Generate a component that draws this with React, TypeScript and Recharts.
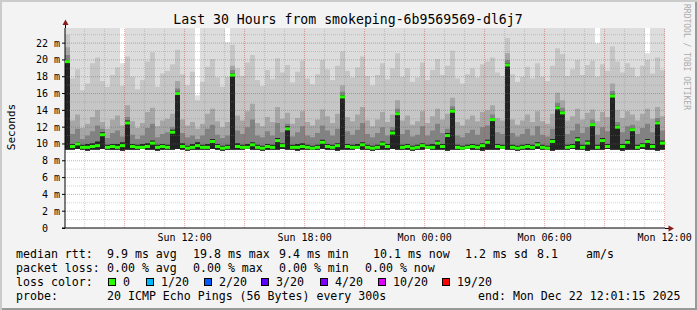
import React from 'react';
import { ComposedChart, Area, Line, XAxis, YAxis, ReferenceLine } from 'recharts';

// one column = 15 minutes, 120 columns = 30 hours (ms)
const minPing = [
  9.3, 9.3, 9.4, 9.3, 9.2, 9.3, 9.3, 9.4, 9.3, 9.3,
  9.3, 9.2, 9.3, 9.3, 9.3, 9.4, 9.3, 9.3, 9.2, 9.3,
  9.3, 9.3, 9.4, 9.3, 9.2, 9.3, 9.3, 9.3, 9.3, 9.4,
  9.3, 9.2, 9.3, 9.3, 9.3, 9.3, 9.4, 9.3, 9.3, 9.2,
  9.3, 9.3, 9.3, 9.4, 9.3, 9.3, 9.2, 9.3, 9.3, 9.3,
  9.3, 9.4, 9.3, 9.3, 9.2, 9.3, 9.3, 9.3, 9.4, 9.3,
  9.3, 9.2, 9.3, 9.3, 9.3, 9.4, 9.3, 9.3, 9.3, 9.2,
  9.3, 9.3, 9.4, 9.3, 9.3, 9.3, 9.2, 9.3, 9.3, 9.3,
  9.4, 9.3, 9.3, 9.2, 9.3, 9.3, 9.3, 9.4, 9.3, 9.3,
  9.2, 9.3, 9.3, 9.3, 9.4, 9.3, 9.3, 9.2, 9.3, 9.3,
  9.3, 9.4, 9.3, 9.3, 9.2, 9.3, 9.3, 9.3, 9.4, 9.3,
  9.3, 9.2, 9.3, 9.3, 9.3, 9.4, 9.3, 9.3, 9.2, 9.3,
];

const darkPing = [
  20.0, 10.0, 10.2, 9.9, 10.0, 10.1, 10.3, 11.4, 9.9, 10.0,
  10.0, 10.2, 12.8, 10.0, 9.9, 10.0, 10.1, 10.4, 9.9, 10.0,
  9.9, 11.7, 16.2, 10.1, 9.8, 10.0, 10.2, 9.9, 10.0, 10.6,
  10.0, 9.8, 9.9, 18.4, 10.1, 9.9, 10.0, 10.2, 9.9, 9.8,
  10.0, 9.9, 10.7, 10.1, 12.1, 9.9, 10.0, 10.1, 9.9, 9.8,
  9.9, 10.5, 10.0, 9.9, 10.1, 15.8, 10.0, 9.9, 10.0, 10.2,
  9.9, 9.8, 9.9, 10.3, 10.0, 11.6, 13.8, 9.9, 10.0, 9.8,
  9.9, 10.1, 9.9, 10.0, 10.4, 10.0, 11.3, 14.1, 9.9, 9.8,
  9.9, 10.0, 9.9, 10.1, 10.5, 13.1, 10.0, 9.9, 19.6, 9.9,
  9.8, 9.9, 10.0, 9.9, 10.2, 9.9, 9.8, 10.6, 14.5, 13.9,
  9.9, 10.0, 10.8, 9.9, 10.4, 12.5, 9.9, 10.7, 10.0, 15.9,
  12.2, 10.0, 10.5, 11.9, 9.9, 10.1, 10.6, 10.0, 12.7, 10.4,
];

const lowPing = [
  20.6, 11.2, 11.8, 10.6, 11.0, 11.5, 12.2, 11.8, 10.7, 11.3,
  11.6, 10.9, 13.2, 11.1, 10.6, 11.0, 11.9, 12.4, 10.8, 11.2,
  11.4, 12.0, 16.6, 11.3, 10.8, 11.0, 10.6, 11.0, 11.8, 12.3,
  11.1, 10.7, 11.0, 18.8, 11.6, 11.2, 12.0, 12.9, 11.0, 10.8,
  11.5, 11.0, 12.5, 11.4, 12.4, 10.9, 11.4, 12.1, 11.0, 10.8,
  11.3, 12.2, 11.6, 11.0, 11.8, 16.2, 11.5, 11.1, 11.7, 12.5,
  11.2, 10.8, 11.3, 12.0, 11.0, 12.0, 14.2, 11.2, 11.7, 10.9,
  11.1, 12.1, 11.0, 11.6, 12.4, 11.3, 11.8, 14.5, 11.0, 10.8,
  11.3, 11.7, 11.1, 12.0, 12.2, 13.5, 11.4, 11.2, 20.0, 11.3,
  10.9, 11.2, 11.8, 11.0, 12.1, 11.1, 10.9, 11.8, 14.9, 14.3,
  11.2, 11.6, 12.4, 11.3, 12.0, 12.9, 11.1, 12.0, 11.5, 16.3,
  12.6, 11.4, 12.1, 12.3, 11.2, 11.9, 12.4, 11.4, 13.1, 11.6,
];

const midPing = [
  21.5, 12.8, 13.5, 11.9, 12.4, 13.2, 14.0, 12.6, 11.8, 12.9,
  13.4, 12.2, 14.6, 12.7, 11.9, 12.5, 13.8, 14.3, 12.1, 12.8,
  13.0, 13.6, 17.5, 12.9, 12.2, 12.6, 11.8, 12.4, 13.6, 14.2,
  12.7, 12.0, 12.6, 19.3, 13.4, 12.8, 13.9, 14.8, 12.5, 12.1,
  13.2, 12.6, 14.4, 13.0, 13.7, 12.4, 13.1, 13.9, 12.6, 12.2,
  12.9, 14.1, 13.3, 12.5, 13.6, 17.0, 13.2, 12.7, 13.5, 14.4,
  12.8, 12.1, 12.9, 13.8, 12.6, 13.5, 15.2, 12.8, 13.4, 12.3,
  12.7, 13.9, 12.5, 13.3, 14.2, 12.9, 13.6, 15.5, 12.6, 12.2,
  12.9, 13.4, 12.7, 13.8, 14.0, 14.6, 13.1, 12.8, 20.8, 12.9,
  12.3, 12.8, 13.5, 12.6, 13.9, 12.7, 12.4, 13.6, 16.1, 15.2,
  12.8, 13.3, 14.2, 12.9, 13.7, 14.1, 12.7, 13.8, 13.2, 17.2,
  14.0, 13.1, 13.9, 13.5, 12.8, 13.6, 14.2, 13.0, 14.4, 13.3,
];

const upperPing = [
  23.0, 17.8, 18.9, 16.4, 17.2, 19.6, 20.3, 17.5, 16.8, 18.2,
  19.1, 16.9, 20.4, 18.0, 16.5, 17.6, 19.8, 20.9, 16.8, 18.4,
  18.7, 19.5, 21.2, 18.3, 17.0, 18.6, 15.2, 17.4, 19.2, 20.1,
  17.9, 16.8, 18.0, 21.8, 19.0, 18.1, 19.7, 20.6, 17.6, 16.9,
  18.8, 17.7, 20.2, 18.5, 19.4, 17.3, 18.6, 19.9, 17.8, 17.1,
  18.3, 20.0, 18.9, 17.6, 19.3, 21.0, 18.7, 17.9, 19.1, 20.4,
  18.1, 17.0, 18.2, 19.6, 17.7, 19.0, 20.8, 18.0, 19.0, 17.4,
  17.9, 19.7, 17.6, 18.8, 20.1, 18.2, 19.3, 21.1, 17.8, 17.2,
  18.3, 19.0, 17.9, 19.5, 19.8, 20.3, 18.5, 18.1, 22.6, 18.3,
  17.4, 18.0, 19.2, 17.8, 19.6, 18.0, 17.5, 19.3, 21.4, 20.7,
  18.1, 18.9, 20.0, 18.2, 19.4, 19.9, 18.0, 19.5, 18.7, 21.6,
  19.8, 18.5, 19.6, 19.1, 18.0, 19.3, 20.0, 18.4, 20.3, 18.8,
];

const maxPing = [
  30, 27, 29, 25, 26, 28, 30, 26, 25, 27,
  28, 19.6, 30, 27, 25, 26, 29, 30, 25, 27,
  27, 28, 30, 26, 25, 27, 15.8, 26, 28, 29,
  26, 25, 22.1, 30, 28, 26, 29, 30, 26, 25,
  27, 26, 29, 27, 28, 25, 27, 29, 26, 25,
  26, 29, 27, 26, 28, 30, 27, 26, 28, 29,
  26, 25, 26, 28, 26, 27, 30, 26, 28, 25,
  26, 28, 25, 27, 29, 26, 28, 30, 26, 25,
  27, 28, 26, 28, 29, 29, 27, 26, 30, 27,
  25, 26, 28, 26, 28, 26, 25, 28, 30, 29,
  26, 27, 29, 26, 28, 29, 22.0, 28, 27, 30,
  28, 27, 28, 28, 26, 28, 20.8, 27, 29, 27,
];

const medianRtt = [
  19.8, 9.7, 10.0, 9.6, 9.6, 9.7, 9.8, 11.1, 9.6, 9.7,
  9.6, 9.8, 12.5, 9.7, 9.6, 9.6, 9.7, 10.1, 9.6, 9.7,
  9.6, 11.4, 16.0, 9.7, 9.5, 9.6, 9.8, 9.6, 9.6, 10.3,
  9.7, 9.5, 9.6, 18.2, 9.7, 9.6, 9.6, 9.9, 9.6, 9.5,
  9.7, 9.6, 10.4, 9.8, 11.8, 9.6, 9.6, 9.7, 9.6, 9.5,
  9.6, 10.2, 9.7, 9.6, 9.8, 15.6, 9.7, 9.6, 9.6, 9.9,
  9.6, 9.5, 9.6, 10.0, 9.7, 11.3, 13.6, 9.6, 9.7, 9.5,
  9.6, 9.8, 9.6, 9.6, 10.1, 9.7, 11.0, 13.9, 9.6, 9.5,
  9.6, 9.7, 9.6, 9.8, 10.2, 12.9, 9.7, 9.6, 19.4, 9.6,
  9.5, 9.6, 9.7, 9.6, 9.9, 9.6, 9.5, 10.3, 14.3, 13.7,
  9.6, 9.7, 10.5, 9.6, 10.1, 12.3, 9.6, 10.4, 9.7, 15.7,
  12.0, 9.7, 10.2, 11.7, 9.6, 9.8, 10.3, 9.7, 12.5, 10.1,
];

const timeTickHours = [6, 12, 18, 24, 30];
const timeTickLabels = ['Sun 12:00', 'Sun 18:00', 'Mon 00:00', 'Mon 06:00', 'Mon 12:00'];
const gridHours = [1, 2, 3, 4, 5, 6, 7, 8, 9, 10, 11, 12, 13, 14, 15, 16, 17, 18, 19, 20, 21, 22, 23, 24, 25, 26, 27, 28, 29, 30];
const yTicks = [0, 2, 4, 6, 8, 10, 12, 14, 16, 18, 20, 22];
const yMinorTicks = [1, 3, 5, 7, 9, 11, 13, 15, 17, 19, 21, 23];

const lossLabels = ['0', '1/20', '2/20', '3/20', '4/20', '10/20', '19/20'];
const lossColors = ['#26ff00', '#00b8ff', '#0059ff', '#5e00ff', '#7e00ff', '#dd00ff', '#ff0000'];

const STEP_H = 0.25;
const START_OFF = 1.25 / 60; // graph starts at 06:01:15
const PLOT_W = 600;
const COL_W = PLOT_W / medianRtt.length;
const MONO = "'DejaVu Sans Mono', monospace";

const rows: any[] = medianRtt.map((m, i) => ({
  t: i * STEP_H,
  lo: minPing[i],
  dark: darkPing[i],
  low: lowPing[i],
  mid: midPing[i],
  upper: upperPing[i],
  max: maxPing[i],
  median: m,
}));
// close the last step
rows.push({ ...rows[rows.length - 1], t: rows.length * STEP_H, median: undefined });

// smoke layers, outermost first
const smoke = [
  { key: 'max', fill: '#dddddd' },
  { key: 'upper', fill: '#c6c6c6' },
  { key: 'mid', fill: '#a6a6a6' },
  { key: 'low', fill: '#828282' },
  { key: 'dark', fill: '#232323' },
];

const MedianDot = (props: any) => {
  const { cx, cy, index } = props;
  if (cy == null || Number.isNaN(cy)) return <g key={`md-${index}`} />;
  return <rect key={`md-${index}`} x={cx} y={cy - 1.5} width={COL_W} height={3} fill="#26ff00" />;
};

const XTick = (props: any) => {
  const { x, payload } = props;
  const idx = timeTickHours.findIndex((h) => Math.abs(h - START_OFF - payload.value) < 1e-6);
  return (
    <text x={x} y={241} textAnchor="middle" fontFamily={MONO} fontSize={10} fill="#000">
      {timeTickLabels[idx]}
    </text>
  );
};

const YTick = (props: any) => {
  const { y, payload } = props;
  const label = payload.value === 0 ? '0  ' : `${payload.value} m`;
  return (
    <text x={60} y={y + 3.5} textAnchor="end" fontFamily={MONO} fontSize={10} fill="#000" style={{ whiteSpace: 'pre' }}>
      {label}
    </text>
  );
};

const rttLine = [
  ['median rtt:', 16], ['9.9 ms avg', 107], ['19.8 ms max', 193], ['9.4 ms min', 279],
  ['10.1 ms now', 373], ['1.2 ms sd', 465], ['8.1', 537], ['am/s', 586],
] as const;
const lossLine = [
  ['packet loss:', 16], ['0.00 % avg', 107], ['0.00 % max', 193], ['0.00 % min', 279], ['0.00 % now', 365],
] as const;
const lossBoxX = [108, 146, 204, 261, 320, 378, 442];

export default function App() {
  return (
    <div
      style={{
        position: 'absolute', left: 0, top: 0, width: 697, height: 310,
        background: '#f3f3f3',
        boxShadow: 'inset 2px 2px 0 #cbcbcb, inset -2px -2px 0 #999999',
      }}
    >
      <div style={{ position: 'absolute', left: 65, top: 28, width: PLOT_W, height: 200, background: '#fff' }} />
      <div style={{ position: 'absolute', left: 0, top: 0 }}>
        <ComposedChart width={697} height={310} data={rows} margin={{ top: 28, right: 32, bottom: 62, left: 0 }}>
          <XAxis
            type="number"
            dataKey="t"
            domain={[0, 30]}
            ticks={timeTickHours.map((h) => h - START_OFF)}
            interval={0}
            tick={<XTick />}
            tickLine={false}
            axisLine={{ stroke: '#000' }}
            height={20}
            allowDataOverflow
          />
          <YAxis
            type="number"
            domain={[0, 23.8]}
            ticks={yTicks}
            interval={0}
            tick={<YTick />}
            tickSize={3}
            tickLine={{ stroke: '#000' }}
            axisLine={{ stroke: '#000' }}
            width={65}
            allowDataOverflow
          />
          {smoke.map((s) => (
            <Area
              key={s.key}
              type="stepAfter"
              dataKey={(d: any) => [d.lo, d[s.key]]}
              stroke="none"
              fill={s.fill}
              fillOpacity={1}
              isAnimationActive={false}
              activeDot={false}
            />
          ))}
          {yMinorTicks.map((v) => (
            <ReferenceLine key={`ym-${v}`} y={v} stroke="rgba(128,128,128,0.35)" strokeDasharray="1 1" />
          ))}
          {gridHours.map((h) => (
            <ReferenceLine
              key={`xg-${h}`}
              x={h - START_OFF}
              stroke={h % 3 === 0 ? 'rgba(200,60,60,0.45)' : 'rgba(128,128,128,0.35)'}
              strokeDasharray="1 1"
            />
          ))}
          {yTicks.filter((v) => v > 0).map((v) => (
            <ReferenceLine key={`yM-${v}`} y={v} stroke="rgba(200,60,60,0.45)" strokeDasharray="1 1" />
          ))}
          <Line dataKey="median" stroke="none" dot={MedianDot} activeDot={false} isAnimationActive={false} />
        </ComposedChart>
      </div>
      <svg width={697} height={310} style={{ position: 'absolute', left: 0, top: 0, pointerEvents: 'none' }}>
        <text x={348} y={24} textAnchor="middle" fontFamily={MONO} fontSize={13.2} fill="#000">
          Last 30 Hours from smokeping-6b9569569-dl6j7
        </text>
        <text transform="translate(15,127) rotate(-90)" textAnchor="middle" fontFamily={MONO} fontSize={11} fill="#000">
          Seconds
        </text>
        <text transform="translate(684,4) rotate(90)" fontFamily={MONO} fontSize={8} fill="#ababab">
          RRDTOOL / TOBI OETIKER
        </text>
        <line x1={65.5} y1={28} x2={65.5} y2={23} stroke="#000" />
        <polygon points="62.5,25 68.5,25 65.5,19.5" fill="#8b1a1a" />
        <line x1={62} y1={228.5} x2={65} y2={228.5} stroke="#000" />
        <line x1={665} y1={228.5} x2={669} y2={228.5} stroke="#000" />
        <polygon points="668.5,225.5 668.5,231.5 674,228.5" fill="#8b1a1a" />
        {rttLine.map(([s, x]) => (
          <text key={`r-${x}`} x={x} y={258} fontFamily={MONO} fontSize={11.6} fill="#000" style={{ whiteSpace: 'pre' }}>{s}</text>
        ))}
        {lossLine.map(([s, x]) => (
          <text key={`l-${x}`} x={x} y={272} fontFamily={MONO} fontSize={11.6} fill="#000" style={{ whiteSpace: 'pre' }}>{s}</text>
        ))}
        <text x={16} y={286} fontFamily={MONO} fontSize={11.6} fill="#000">loss color:</text>
        {lossLabels.map((lab, i) => (
          <g key={`lc-${lab}`}>
            <rect x={lossBoxX[i] + 0.5} y={278.5} width={7} height={7} fill={lossColors[i]} stroke="#000" />
            <text x={lossBoxX[i] + 15} y={286} fontFamily={MONO} fontSize={11.6} fill="#000">{lab}</text>
          </g>
        ))}
        <text x={16} y={300} fontFamily={MONO} fontSize={11.6} fill="#000">probe:</text>
        <text x={107} y={300} fontFamily={MONO} fontSize={11.6} fill="#000">20 ICMP Echo Pings (56 Bytes) every 300s</text>
        <text x={478} y={300} fontFamily={MONO} fontSize={11.6} fill="#000">end: Mon Dec 22 12:01:15 2025</text>
      </svg>
    </div>
  );
}
